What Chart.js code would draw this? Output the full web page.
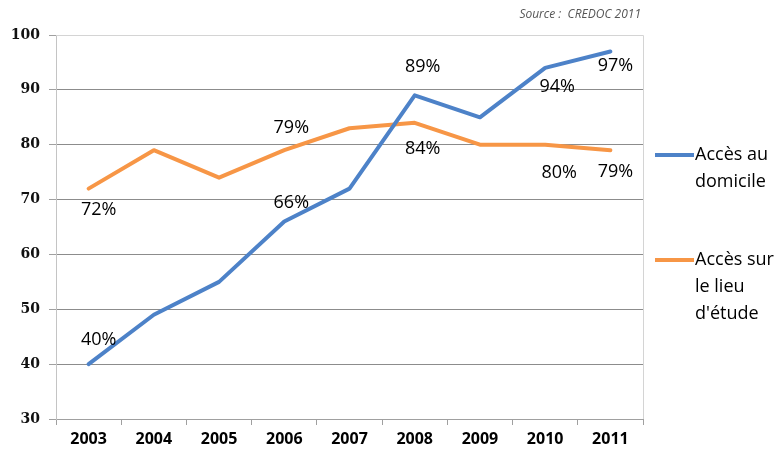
<!DOCTYPE html>
<html>
<head>
<meta charset="utf-8">
<script src="https://cdn.jsdelivr.net/npm/chart.js@4/dist/chart.umd.min.js"></script>
<style>
html,body{margin:0;padding:0;background:#fff;}
#wrap{position:relative;width:778px;height:457px;}
</style>
</head>
<body>
<div id="wrap"><canvas id="c" width="778" height="457"></canvas></div>
<script>
const years = ['2003','2004','2005','2006','2007','2008','2009','2010','2011'];
const domicile = [40, 49, 55, 66, 72, 89, 85, 94, 97];
const etude = [72, 79, 74, 79, 83, 84, 80, 80, 79];
const seriesNames = [['Accès au','domicile'], ['Accès sur','le lieu',"d'étude"]];
const yTicks = [30, 40, 50, 60, 70, 80, 90, 100];
const sourceText = 'Source :  CREDOC 2011';
// which points carry a value label: [datasetIndex, pointIndex, dx, dy]
const labelled = [
  [0,0,10,-24],[0,3,7,-19],[0,5,8,-28],[0,7,12,19],[0,8,5,14],
  [1,0,10,21],[1,3,7,-22],[1,5,8,26],[1,7,14,28],[1,8,5,22]
];

const BLUE = '#4d82c8';
const ORANGE = '#f79646';

const extras = {
  id: 'extras',
  afterDatasetsDraw(chart) {
    const ctx = chart.ctx;
    const a = chart.chartArea;
    ctx.save();
    ctx.strokeStyle = '#d4d4d4';
    ctx.lineWidth = 1;
    ctx.beginPath();
    ctx.moveTo(a.left, a.top + 0.5); ctx.lineTo(a.right + 0.5, a.top + 0.5);
    ctx.lineTo(a.right + 0.5, a.bottom);
    ctx.stroke();
    // value labels
    ctx.fillStyle = '#000';
    ctx.font = '500 18px "Open Sans"';
    ctx.textAlign = 'center';
    ctx.textBaseline = 'middle';
    labelled.forEach(([d, i, dx, dy]) => {
      const pt = chart.getDatasetMeta(d).data[i];
      const v = chart.data.datasets[d].data[i];
      ctx.fillText(v + '%', pt.x + dx, pt.y + dy);
    });
    // legend
    const legendY = [155, 260];
    ctx.textAlign = 'left';
    ctx.font = '500 18px "Open Sans"';
    chart.data.datasets.forEach((ds, k) => {
      const y = legendY[k];
      ctx.strokeStyle = ds.borderColor;
      ctx.lineWidth = 4;
      ctx.lineCap = 'butt';
      ctx.beginPath(); ctx.moveTo(655, y); ctx.lineTo(694, y); ctx.stroke();
      ctx.fillStyle = '#000';
      seriesNames[k].forEach((line, j) => ctx.fillText(line, 695, y + j * 27));
    });
    ctx.font = 'italic 12px "Open Sans"';
    ctx.fillStyle = '#555';
    ctx.textAlign = 'right';
    ctx.fillText(sourceText, 641, 15);
    ctx.restore();
  }
};

new Chart(document.getElementById('c'), {
  type: 'line',
  data: {
    labels: years,
    datasets: [
      { label: seriesNames[0].join(' '), data: domicile, borderColor: BLUE, backgroundColor: BLUE,
        borderWidth: 4, pointRadius: 0, tension: 0, borderJoinStyle: 'round', borderCapStyle: 'round' },
      { label: seriesNames[1].join(' '), data: etude, borderColor: ORANGE, backgroundColor: ORANGE,
        borderWidth: 4, pointRadius: 0, tension: 0, borderJoinStyle: 'round', borderCapStyle: 'round' }
    ]
  },
  options: {
    responsive: false,
    animation: false,
    layout: { padding: { left: 0, top: 35, right: 135, bottom: 0 } },
    plugins: { legend: { display: false }, tooltip: { enabled: false } },
    scales: {
      x: {
        offset: true,
        grid: { offset: true, drawOnChartArea: false, drawTicks: true, tickLength: 6, color: '#a0a0a0' },
        border: { color: '#a0a0a0' },
        ticks: { color: '#000', font: { family: 'Open Sans', weight: 'bold', size: 16 }, padding: 5, maxRotation: 0 },
        afterFit(s) { s.height = 38; }
      },
      y: {
        min: 30, max: 100,
        afterBuildTicks(s) { s.ticks = yTicks.map(v => ({ value: v })); },
        grid: {
          color: ctx => ctx.tick && ctx.tick.value === 100 ? '#d4d4d4' : '#8c8c8c',
          tickColor: '#a0a0a0', tickLength: 7
        },
        border: { color: '#c4c4c4' },
        ticks: { color: '#111', font: { family: 'DejaVu Serif', weight: 'bold', size: 14 }, padding: 9 },
        afterFit(s) { s.width = 56; }
      }
    }
  },
  plugins: [extras]
});
</script>
</body>
</html>
